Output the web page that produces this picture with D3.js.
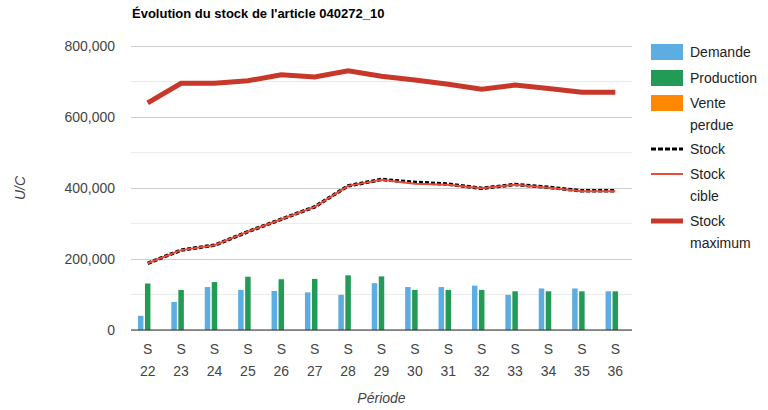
<!DOCTYPE html>
<html>
<head>
<meta charset="utf-8">
<script src="https://cdn.jsdelivr.net/npm/d3@7"></script>
<style>
  body { margin: 0; background: #fff; }
  svg { font-family: "Liberation Sans", Arial, sans-serif; }
</style>
</head>
<body>
<div id="graphic"></div>
<script>
// data
var periods = ["S 22","S 23","S 24","S 25","S 26","S 27","S 28","S 29","S 30","S 31","S 32","S 33","S 34","S 35","S 36"];
var demande = [40000, 79000, 121000, 113000, 110000, 106000, 99000, 132000, 121000, 121000, 125000, 99000, 117000, 117000, 109000];
var production = [131000, 113000, 135000, 150000, 143000, 144000, 154000, 151000, 113000, 113000, 113000, 109000, 109000, 109000, 109000];
var ventePerdue = [0, 0, 0, 0, 0, 0, 0, 0, 0, 0, 0, 0, 0, 0, 0];
var stock = [188000, 225000, 239000, 277000, 312000, 347000, 406000, 424000, 416000, 411000, 399000, 410000, 402000, 392000, 392000];
var stockCible = [188000, 225000, 239000, 277000, 312000, 347000, 406000, 423000, 412000, 409000, 399000, 409000, 401000, 391000, 391000];
var stockMax = [640000, 695000, 695000, 702000, 719000, 713000, 730000, 715000, 704000, 692000, 678000, 690000, 680000, 670000, 670000];
var yTicks = [0, 200000, 400000, 600000, 800000];

var colors = { demande: "#5dade2", production: "#239b56", vente: "#ff8800", stock: "#000000", cible: "#e74c3c", max: "#c8382a" };

var width = 768, height = 410;
var margin = { top: 46, left: 131, right: 136, bottom: 80 };

var svg = d3.select("#graphic").append("svg")
    .attr("width", width)
    .attr("height", height);

var x = d3.scaleBand()
    .domain(periods)
    .range([margin.left, width - margin.right]);

var y = d3.scaleLinear()
    .domain([0, 800000])
    .range([height - margin.bottom, margin.top]);

// minor gridlines
svg.append("g").selectAll("line")
    .data(d3.range(100000, 800000, 200000))
    .enter().append("line")
    .attr("x1", margin.left).attr("x2", width - margin.right)
    .attr("y1", function(d) { return y(d); })
    .attr("y2", function(d) { return y(d); })
    .attr("stroke", "#ebebeb");

// y axis with gridlines
var yAxis = svg.append("g")
    .attr("transform", "translate(" + margin.left + ",0)")
    .call(d3.axisLeft(y).tickValues(yTicks).tickSize(-(width - margin.left - margin.right)).tickFormat(d3.format(",")).tickPadding(16));
yAxis.select(".domain").remove();
yAxis.selectAll(".tick line").attr("stroke", "#cccccc");
yAxis.selectAll(".tick text").attr("fill", "#444").style("font-size", "14px");

// bars
var series = [
  { name: "demande", values: demande, color: colors.demande },
  { name: "production", values: production, color: colors.production },
  { name: "vente", values: ventePerdue, color: colors.vente }
];
var barW = 5.5, barGap = 1.5;
series.forEach(function(s, si) {
  svg.append("g").selectAll("rect")
    .data(s.values)
    .enter().append("rect")
    .attr("x", function(d, i) { return x(periods[i]) + x.bandwidth() / 2 + (si - 1) * (barW + barGap) - barW / 2; })
    .attr("y", function(d) { return y(d); })
    .attr("width", barW)
    .attr("height", function(d) { return y(0) - y(d); })
    .attr("fill", s.color);
});

// baseline
svg.append("line")
    .attr("x1", margin.left).attr("x2", width - margin.right)
    .attr("y1", y(0)).attr("y2", y(0))
    .attr("stroke", "#333").attr("stroke-width", 1);

var line = d3.line()
    .x(function(d, i) { return x(periods[i]) + x.bandwidth() / 2; })
    .y(function(d) { return y(d); });

svg.append("path").datum(stock)
    .attr("d", line).attr("fill", "none")
    .attr("stroke", colors.stock).attr("stroke-width", 3.5).attr("stroke-dasharray", "4,2");
svg.append("path").datum(stockCible)
    .attr("d", line).attr("fill", "none")
    .attr("stroke", colors.cible).attr("stroke-width", 2);
svg.append("path").datum(stockMax)
    .attr("d", line).attr("fill", "none")
    .attr("stroke", colors.max).attr("stroke-width", 5);

// x labels (two lines)
var xl = svg.append("g").selectAll("text")
    .data(periods)
    .enter().append("text")
    .attr("x", function(d) { return x(d) + x.bandwidth() / 2; })
    .attr("y", 354)
    .attr("text-anchor", "middle")
    .attr("fill", "#444")
    .style("font-size", "14px");
xl.append("tspan").attr("x", function(d) { return x(d) + x.bandwidth() / 2; }).text(function(d) { return d.split(" ")[0]; });
xl.append("tspan").attr("x", function(d) { return x(d) + x.bandwidth() / 2; }).attr("dy", 22).text(function(d) { return d.split(" ")[1]; });

// titles
svg.append("text")
    .attr("x", 132).attr("y", 18)
    .style("font-size", "13px").style("font-weight", "bold")
    .text("Évolution du stock de l'article 040272_10");

svg.append("text")
    .attr("x", (margin.left + width - margin.right) / 2).attr("y", 403)
    .attr("text-anchor", "middle")
    .attr("fill", "#444")
    .style("font-size", "14px").style("font-style", "italic")
    .text("Période");

svg.append("text")
    .attr("transform", "translate(25,188) rotate(-90)")
    .attr("text-anchor", "middle")
    .attr("fill", "#444")
    .style("font-size", "14px").style("font-style", "italic")
    .text("U/C");

// legend
var legendItems = [
  { lines: ["Demande"], type: "rect", color: colors.demande, y: 52 },
  { lines: ["Production"], type: "rect", color: colors.production, y: 78 },
  { lines: ["Vente", "perdue"], type: "rect", color: colors.vente, y: 103 },
  { lines: ["Stock"], type: "dash", color: colors.stock, y: 149 },
  { lines: ["Stock", "cible"], type: "thin", color: colors.cible, y: 174 },
  { lines: ["Stock", "maximum"], type: "thick", color: colors.max, y: 221 }
];
var legend = svg.append("g").attr("class", "legend");
legendItems.forEach(function(it) {
  if (it.type === "rect") {
    legend.append("rect").attr("x", 651).attr("y", it.y - 8).attr("width", 32).attr("height", 16).attr("fill", it.color);
  } else {
    legend.append("line").attr("x1", 651).attr("x2", 683).attr("y1", it.y).attr("y2", it.y)
      .attr("stroke", it.color)
      .attr("stroke-width", it.type === "thick" ? 5 : (it.type === "dash" ? 3 : 2))
      .attr("stroke-dasharray", it.type === "dash" ? "5,2" : null);
  }
  it.lines.forEach(function(t, k) {
    legend.append("text").attr("x", 690).attr("y", it.y + 5 + k * 22)
      .attr("fill", "#222").style("font-size", "14px").text(t);
  });
});
</script>
</body>
</html>
